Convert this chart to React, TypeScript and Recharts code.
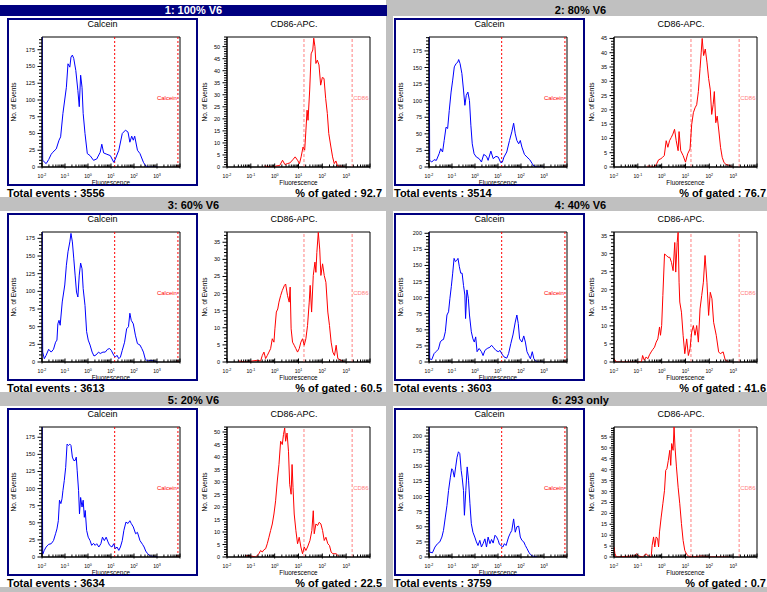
import React from "react";
import { LineChart, Line, XAxis, YAxis, ReferenceLine, ReferenceArea } from "recharts";

type Pt = [number, number];

// x values are log10(fluorescence), y values are event counts
const panelTitles = ["1: 100% V6", "2: 80% V6", "3: 60% V6", "4: 40% V6", "5: 20% V6", "6: 293 only"];
const totalEvents = [3556, 3514, 3613, 3603, 3634, 3759];
const gatedPct = ["92.7", "76.7", "60.5", "41.6", "22.5", "0.7"];
const calceinYMax = [194, 196, 184, 202, 190, 215];
const cd86YMax = [54, 45.5, 38, 36, 52, 59.6];
const decadeExponents = ["-2", "-1", "0", "1", "2", "3"];
const calceinGates = [1.16, 3.91];
const cd86Gates = [1.23, 3.25];

const calceinP1: Pt[] = [
  [-2, 240], [-1.97, 10], [-1.82, 5], [-1.71, 11], [-1.6, 19], [-1.53, 22], [-1.38, 27], [-1.26, 40],
  [-1.19, 45], [-1.09, 80], [-0.94, 119], [-0.87, 154], [-0.79, 149], [-0.74, 164], [-0.68, 167],
  [-0.62, 162], [-0.53, 144], [-0.44, 114], [-0.38, 90], [-0.32, 137], [-0.26, 119], [-0.21, 80],
  [-0.13, 50], [-0.03, 20], [0.09, 17], [0.24, 10], [0.38, 12], [0.53, 22], [0.6, 34], [0.68, 21],
  [0.82, 19], [0.97, 17], [1.12, 7], [1.19, 12], [1.34, 25], [1.49, 50], [1.63, 55], [1.74, 52],
  [1.82, 37], [1.9, 46], [1.97, 40], [2.03, 46], [2.15, 25], [2.26, 20], [2.41, 7], [2.51, 1.5],
  [2.66, 0], [3.03, 0],
];
const cd86P1: Pt[] = [
  [-0.43, 0.4], [-0.07, 0], [0.1, 0.5], [0.21, 0.6], [0.33, 2.8], [0.43, 1], [0.53, 1.4], [0.64, 1.7],
  [0.76, 3], [0.86, 4.2], [0.96, 2.8], [1.04, 1.4], [1.11, 4.2], [1.19, 8.3], [1.26, 7], [1.31, 15],
  [1.36, 23.6], [1.4, 19.4], [1.47, 32], [1.53, 47], [1.6, 48.6], [1.64, 53.5], [1.69, 50], [1.73, 43],
  [1.79, 44.4], [1.86, 42.4], [1.93, 34], [2.0, 37.2], [2.07, 36.8], [2.14, 28.5], [2.21, 22.2],
  [2.27, 13.9], [2.36, 8.3], [2.43, 4.2], [2.5, 1.4], [2.57, 2.5], [2.64, 0.4], [2.79, 0.4], [2.93, 0],
];
const calceinP2: Pt[] = [
  [-2, 240], [-1.97, 10], [-1.88, 7.5], [-1.78, 11], [-1.68, 10], [-1.56, 20], [-1.49, 27.6], [-1.41, 22.6],
  [-1.34, 40], [-1.26, 60], [-1.19, 58], [-1.12, 85], [-1.04, 113], [-0.97, 131], [-0.9, 151], [-0.82, 156],
  [-0.75, 158], [-0.71, 162], [-0.65, 156], [-0.57, 141], [-0.5, 116], [-0.44, 93], [-0.38, 108],
  [-0.31, 113], [-0.24, 100], [-0.18, 63], [-0.12, 35], [-0.04, 20], [0.06, 15], [0.18, 12.6], [0.28, 7.5],
  [0.38, 19], [0.5, 16], [0.57, 10], [0.69, 24], [0.79, 12.6], [0.91, 16], [1.01, 15], [1.12, 6.5],
  [1.19, 7.5], [1.26, 15], [1.38, 22.6], [1.5, 40], [1.6, 53], [1.68, 66], [1.75, 50], [1.82, 40],
  [1.9, 35], [1.97, 40], [2.04, 30], [2.15, 19], [2.26, 15], [2.38, 11], [2.49, 5], [2.56, 1.5],
  [2.71, 0], [3.0, 0],
];
const cd86P2: Pt[] = [
  [-0.6, 0.3], [-0.46, 0.3], [-0.31, 0], [-0.21, 1.1], [-0.13, 2.5], [-0.03, 2.9], [0.04, 3.4], [0.11, 4],
  [0.19, 9.2], [0.26, 6.9], [0.33, 9.2], [0.4, 10.3], [0.47, 11.5], [0.54, 13.2], [0.61, 9.2], [0.69, 5.7],
  [0.73, 12.4], [0.8, 5.7], [0.9, 4], [1.0, 1.7], [1.09, 4.6], [1.19, 6.3], [1.26, 14.9], [1.33, 19],
  [1.4, 20.7], [1.47, 21.8], [1.54, 26.4], [1.61, 34.4], [1.66, 40.2], [1.7, 45], [1.76, 39], [1.83, 41.3],
  [1.9, 36.7], [1.97, 31], [2.04, 27], [2.1, 18.4], [2.16, 21.8], [2.21, 26.4], [2.27, 15.5], [2.33, 17.8],
  [2.4, 12.6], [2.47, 6.9], [2.54, 3.4], [2.61, 1.7], [2.69, 0.9], [2.83, 0.6], [2.97, 0],
];
const calceinP3: Pt[] = [
  [-2, 240], [-1.97, 14], [-1.9, 4.7], [-1.82, 9.5], [-1.71, 18], [-1.6, 14], [-1.5, 18], [-1.41, 28],
  [-1.35, 31], [-1.31, 54], [-1.26, 59], [-1.21, 52], [-1.12, 85], [-1.01, 109], [-0.94, 137], [-0.87, 156],
  [-0.79, 170], [-0.74, 182], [-0.68, 170], [-0.62, 147], [-0.56, 123], [-0.5, 99], [-0.44, 92],
  [-0.38, 123], [-0.32, 140], [-0.26, 132], [-0.21, 104], [-0.13, 80], [-0.06, 43], [0.01, 31], [0.09, 24],
  [0.18, 14], [0.26, 8.5], [0.35, 10], [0.46, 14], [0.53, 12], [0.65, 14], [0.75, 14], [0.85, 18],
  [0.94, 19], [1.01, 16.5], [1.12, 9.5], [1.19, 7], [1.26, 9.5], [1.34, 4.7], [1.41, 7], [1.49, 16.5],
  [1.59, 28], [1.68, 47], [1.76, 50], [1.82, 69], [1.88, 59], [1.97, 54], [2.06, 38], [2.15, 26],
  [2.26, 24], [2.34, 19], [2.41, 14], [2.49, 4], [2.59, 1.4], [2.74, 2.4], [2.88, 1.4], [3.03, 0],
];
const cd86P3: Pt[] = [
  [-1.51, 0.3], [-1.23, 0], [-0.73, 0.5], [-0.59, 0.3], [-0.52, 1.9], [-0.45, 2.9], [-0.38, 1], [-0.31, 1.9],
  [-0.24, 2.9], [-0.17, 3.9], [-0.1, 6.8], [-0.03, 5.8], [0.01, 9.7], [0.07, 14.6], [0.13, 15.5], [0.18, 17.5],
  [0.25, 19.4], [0.32, 20.9], [0.41, 22.4], [0.46, 22.8], [0.54, 19.4], [0.61, 17.5], [0.65, 21.9],
  [0.69, 9.7], [0.75, 5.8], [0.82, 4.9], [0.89, 3.9], [0.96, 2.9], [1.03, 3.9], [1.1, 5.8], [1.17, 6.8],
  [1.24, 4.9], [1.31, 6.8], [1.38, 10.7], [1.45, 17.5], [1.49, 22.4], [1.55, 14.6], [1.62, 25.3],
  [1.69, 29.2], [1.73, 26.2], [1.77, 32], [1.83, 37.9], [1.89, 33], [1.94, 25.3], [2.01, 28.7], [2.08, 25.3],
  [2.15, 23.3], [2.23, 14.6], [2.3, 10.7], [2.37, 5.8], [2.44, 2.9], [2.51, 1.9], [2.58, 4.9], [2.65, 1],
  [2.79, 0.5], [2.93, 0],
];
const calceinP4: Pt[] = [
  [-2, 240], [-1.97, 5], [-1.88, 3.6], [-1.78, 13], [-1.68, 16.6], [-1.59, 20], [-1.51, 31], [-1.44, 34],
  [-1.37, 35], [-1.29, 47], [-1.22, 73], [-1.15, 78], [-1.09, 99], [-1.03, 117], [-0.97, 138], [-0.91, 161],
  [-0.85, 156], [-0.79, 158], [-0.74, 161], [-0.68, 148], [-0.62, 138], [-0.56, 138], [-0.5, 119],
  [-0.44, 104], [-0.41, 67.5], [-0.35, 112], [-0.29, 99], [-0.24, 73], [-0.16, 47], [-0.09, 36], [-0.03, 31],
  [0.03, 39], [0.09, 16], [0.18, 21], [0.28, 16], [0.35, 10], [0.43, 18], [0.53, 21], [0.65, 23],
  [0.72, 26], [0.79, 23], [0.91, 18], [1.01, 16], [1.09, 18], [1.16, 13], [1.26, 8], [1.38, 6], [1.46, 13],
  [1.56, 29], [1.65, 42], [1.75, 62], [1.82, 73], [1.88, 60], [1.94, 36], [2.04, 31], [2.12, 40.5],
  [2.19, 31], [2.26, 16], [2.34, 10], [2.41, 5], [2.49, 16], [2.56, 5], [2.63, 1.6], [2.78, 0], [3.0, 0],
];
const cd86P4: Pt[] = [
  [-2, 0.9], [-1.9, 0], [-0.85, 0], [-0.8, 1.8], [-0.73, 0.5], [-0.65, 1.4], [-0.58, 0.9], [-0.51, 2],
  [-0.44, 2.8], [-0.37, 3.5], [-0.3, 4.1], [-0.23, 5.5], [-0.16, 6.4], [-0.09, 9.7], [-0.05, 7.4], [0.0, 10.1],
  [0.05, 18.4], [0.12, 29.9], [0.2, 29.5], [0.27, 29], [0.34, 29], [0.41, 27.6], [0.48, 25.3], [0.55, 33.1],
  [0.59, 24.9], [0.65, 33.1], [0.69, 35.9], [0.73, 22.1], [0.76, 16.6], [0.83, 13.8], [0.9, 7.4],
  [0.97, 2.3], [1.05, 6.4], [1.12, 1.8], [1.19, 3.7], [1.26, 8.3], [1.33, 10.1], [1.4, 7.4], [1.47, 10.1],
  [1.54, 5.5], [1.61, 14.7], [1.68, 18.4], [1.75, 22.1], [1.82, 29.5], [1.9, 22.1], [1.97, 12.9],
  [2.04, 19.3], [2.11, 17.5], [2.18, 11], [2.29, 7.4], [2.39, 2.8], [2.46, 2.3], [2.58, 2.8], [2.67, 0.5],
  [2.82, 0],
];
const calceinP5: Pt[] = [
  [-2, 240], [-1.97, 4], [-1.9, 9.7], [-1.82, 14.6], [-1.71, 18.5], [-1.6, 19.4], [-1.5, 24], [-1.41, 34],
  [-1.35, 41], [-1.29, 53], [-1.24, 83], [-1.18, 78], [-1.13, 85], [-1.09, 97], [-1.03, 112], [-0.97, 131],
  [-0.91, 165], [-0.85, 163], [-0.79, 165], [-0.74, 163], [-0.68, 146], [-0.62, 141], [-0.56, 141],
  [-0.51, 146], [-0.47, 126], [-0.41, 97], [-0.37, 63], [-0.32, 87], [-0.26, 73], [-0.21, 83], [-0.16, 58],
  [-0.12, 68], [-0.06, 39], [0.01, 29], [0.09, 24], [0.16, 17], [0.24, 20], [0.31, 17], [0.38, 19.4],
  [0.47, 14.6], [0.56, 19.4], [0.63, 29], [0.71, 24], [0.79, 29], [0.87, 22], [0.94, 17], [1.04, 14.6],
  [1.12, 19.4], [1.19, 12], [1.26, 14.6], [1.34, 9.7], [1.41, 14.6], [1.49, 24], [1.56, 39], [1.65, 51],
  [1.74, 49], [1.82, 53], [1.88, 49], [1.97, 44], [2.07, 34], [2.15, 36], [2.26, 24], [2.37, 18.5],
  [2.44, 14.6], [2.51, 8.7], [2.59, 4.9], [2.71, 1.5], [3.03, 0],
];
const cd86P5: Pt[] = [
  [-1.23, 0.4], [-1.08, 0.6], [-0.8, 0], [-0.66, 1.3], [-0.59, 2.6], [-0.52, 2], [-0.45, 2.9], [-0.38, 3.3],
  [-0.31, 5.3], [-0.24, 7.9], [-0.17, 10.6], [-0.1, 13.2], [-0.03, 17.2], [0.04, 22.5], [0.11, 30.4],
  [0.18, 37], [0.25, 46.3], [0.32, 45], [0.37, 49], [0.42, 51.6], [0.46, 46.3], [0.52, 49.6], [0.58, 42.3],
  [0.63, 29.1], [0.69, 25.1], [0.73, 37], [0.77, 27.8], [0.82, 17.2], [0.89, 10.6], [0.96, 5.3], [1.03, 7.9],
  [1.1, 4], [1.17, 1.3], [1.24, 4], [1.31, 2.6], [1.38, 4], [1.48, 6.6], [1.56, 10.6], [1.62, 18.5],
  [1.66, 9.3], [1.73, 13.2], [1.8, 12.6], [1.87, 13.9], [1.94, 13.2], [2.01, 10.6], [2.08, 6.6], [2.15, 7.9],
  [2.23, 5.3], [2.3, 4.6], [2.37, 2], [2.44, 1.3], [2.58, 1.3], [2.72, 0],
];
const calceinP6: Pt[] = [
  [-2, 240], [-1.97, 8], [-1.85, 7], [-1.74, 16.5], [-1.63, 22], [-1.53, 25], [-1.44, 33], [-1.37, 44],
  [-1.29, 66], [-1.22, 85], [-1.15, 110], [-1.07, 132], [-1.01, 146], [-0.96, 143], [-0.9, 132], [-0.84, 149],
  [-0.78, 165], [-0.72, 174], [-0.66, 171], [-0.6, 143], [-0.56, 132], [-0.5, 110], [-0.46, 69], [-0.4, 110],
  [-0.34, 149], [-0.28, 127], [-0.22, 88], [-0.16, 55], [-0.09, 41], [-0.01, 33], [0.06, 25], [0.13, 19],
  [0.21, 27.5], [0.28, 16.5], [0.35, 22], [0.43, 30], [0.5, 16.5], [0.57, 33], [0.65, 22], [0.72, 29],
  [0.79, 23], [0.87, 36], [0.94, 33], [1.01, 27.5], [1.06, 21], [1.13, 19], [1.21, 16.5], [1.28, 22],
  [1.35, 19], [1.46, 33], [1.53, 39], [1.6, 44], [1.68, 63], [1.75, 41], [1.82, 50], [1.9, 51], [1.97, 33],
  [2.04, 27.5], [2.12, 25], [2.19, 19], [2.26, 14], [2.34, 8], [2.41, 4], [2.49, 1.7], [2.71, 0],
];
const cd86P6: Pt[] = [
  [-2, 4.6], [-1.96, 1.5], [-1.9, 0], [-1.15, 0.5], [-1.05, 1.5], [-0.97, 0.5], [-0.8, 0], [-0.65, 1.5],
  [-0.57, 0.5], [-0.44, 0], [-0.4, 5.3], [-0.34, 9.2], [-0.29, 4.6], [-0.23, 9.2], [-0.17, 8.4], [-0.13, 4.6],
  [-0.09, 11.5], [-0.02, 18.3], [0.05, 24.4], [0.12, 30.6], [0.17, 39.7], [0.22, 40.5], [0.28, 44.3],
  [0.34, 48.9], [0.38, 42], [0.42, 52], [0.48, 48.9], [0.52, 59.6], [0.56, 50.4], [0.62, 41.3], [0.69, 32],
  [0.76, 24.4], [0.83, 15.3], [0.9, 7.6], [0.97, 3], [1.05, 1.2], [1.12, 0.5], [1.26, 0], [1.68, 0.5],
  [2.04, 0], [2.82, 0],
];

const calceinData = [calceinP1, calceinP2, calceinP3, calceinP4, calceinP5, calceinP6];
const cd86Data = [cd86P1, cd86P2, cd86P3, cd86P4, cd86P5, cd86P6];

const FONT = "'Liberation Sans', Arial, sans-serif";
const NAVY = "#000080";

// log decade ticks plus the 2..9 minor ticks
const xTicks: number[] = [];
decadeExponents.forEach((e) => {
  const d = Number(e);
  xTicks.push(d);
  for (let m = 2; m <= 9; m++) xTicks.push(d + Math.log10(m));
});
xTicks.push(4);

function XTick(props: any) {
  const { x, y, payload } = props;
  const v = payload.value;
  const major = Math.abs(v - Math.round(v)) < 1e-6;
  const label = decadeExponents.find((e) => Number(e) === v);
  return (
    <g>
      <line x1={x} x2={x} y1={major ? y + 1.5 : y} y2={y - (major ? 3.5 : 2.5)} stroke="#000" />
      {label !== undefined && (
        <text x={x} y={y + 11} textAnchor="middle" fontSize={5} fill="#000" fontFamily={FONT}>
          10<tspan dy={-2} fontSize={3.6}>{label}</tspan>
        </text>
      )}
    </g>
  );
}

function YTick(props: any) {
  const { x, y, payload, major } = props;
  const isMajor = payload.value % major === 0;
  return (
    <g>
      <line x1={x} x2={x - (isMajor ? 4.5 : 3)} y1={y} y2={y} stroke="#000" />
      {isMajor && (
        <text x={x - 7} y={y + 2} textAnchor="end" fontSize={5.5} fill="#000" fontFamily={FONT}>
          {payload.value}
        </text>
      )}
    </g>
  );
}

function GateLabel(props: any) {
  const { viewBox, text, color, side } = props;
  if (!viewBox) return null;
  const x = side === "left" ? viewBox.x - 1 : viewBox.x + 1;
  const y = viewBox.y + viewBox.height * 0.47 + 2;
  return (
    <text x={x} y={y} fill={color} fontSize={6} textAnchor={side === "left" ? "end" : "start"} fontFamily={FONT}>
      {text}
    </text>
  );
}

interface HistoProps {
  points: Pt[];
  color: string;
  yMax: number;
  major: number;
  minor: number;
  gates: number[];
  gateColor: string;
  gateDash: string;
  gateText: string;
  gateSide: "left" | "right";
  width: number;
  axisW: number;
  right: number;
}

function Histo({ points, color, yMax, major, minor, gates, gateColor, gateDash, gateText, gateSide, width, axisW, right }: HistoProps) {
  const rows = points.map(([x, y]) => ({ x, y }));
  const yTicks: number[] = [];
  for (let v = 0; v <= yMax; v += minor) yTicks.push(v);

  return (
    <LineChart width={width} height={170} data={rows} margin={{ top: 21, right, left: 0, bottom: 0 }}>
      <XAxis
        dataKey="x"
        type="number"
        domain={[-2, 4]}
        ticks={xTicks}
        interval={0}
        tickSize={0}
        tickMargin={0}
        tickLine={false}
        tick={(p: any) => <XTick {...p} />}
        axisLine={{ stroke: "#000" }}
        height={19}
        allowDataOverflow
      />
      <YAxis
        type="number"
        domain={[0, yMax]}
        ticks={yTicks}
        interval={0}
        tickSize={0}
        tickMargin={0}
        tickLine={false}
        tick={(p: any) => <YTick {...p} major={major} />}
        axisLine={{ stroke: "#000" }}
        width={axisW}
        allowDataOverflow
      />
      <ReferenceArea x1={-2} x2={4} y1={0} y2={yMax} fill="none" fillOpacity={0} stroke="#000" strokeWidth={1} />
      <ReferenceLine x={gates[0]} stroke={gateColor} strokeDasharray={gateDash} />
      <ReferenceLine
        x={gates[1]}
        stroke={gateColor}
        strokeDasharray={gateDash}
        label={<GateLabel text={gateText} color={gateColor} side={gateSide} />}
      />
      <Line dataKey="y" type="linear" stroke={color} strokeWidth={1} dot={false} isAnimationActive={false} />
    </LineChart>
  );
}

function Txt({ x, y, size, bold, color = "#000", anchor = "middle", rotate, children }: any) {
  const tx = anchor === "start" ? "0" : anchor === "end" ? "-100%" : "-50%";
  return (
    <div
      style={{
        position: "absolute",
        left: x,
        top: y,
        transform: `translate(${tx}, -50%)${rotate ? " rotate(-90deg)" : ""}`,
        fontSize: size,
        fontWeight: bold ? 700 : 400,
        color,
        whiteSpace: "nowrap",
        lineHeight: 1,
        fontFamily: FONT,
      }}
    >
      {children}
    </div>
  );
}

function Panel({ i }: { i: number }) {
  const col = i % 2;
  const row = Math.floor(i / 2);
  const cx = col * 387;
  const rowTop = 3 + row * 195;
  const ct = rowTop + 13;
  const selected = i === 0;

  return (
    <>
      {selected && <div style={{ position: "absolute", left: 0, top: rowTop + 2, width: 387, height: 11, background: NAVY }} />}
      <Txt x={cx + 193.5} y={rowTop + 7} size={11} bold color={selected ? "#fff" : "#000"}>
        {panelTitles[i]}
      </Txt>
      <div
        style={{
          position: "absolute",
          left: col === 0 ? 0 : 393,
          top: ct,
          width: col === 0 ? 386 : 380,
          height: 181,
          background: "#fff",
        }}
      />
      <div
        style={{
          position: "absolute",
          left: cx + 7,
          top: ct + 2,
          width: 191,
          height: 168,
          border: `2px solid ${NAVY}`,
          boxSizing: "border-box",
        }}
      />
      <div style={{ position: "absolute", left: cx + 7, top: ct }}>
        <Histo
          points={calceinData[i]}
          color="#0000ff"
          yMax={calceinYMax[i]}
          major={25}
          minor={5}
          gates={calceinGates}
          gateColor="#ff0000"
          gateDash="2 2"
          gateText="Calcein"
          gateSide="left"
          width={191}
          axisW={35}
          right={18}
        />
      </div>
      <div style={{ position: "absolute", left: cx + 198, top: ct }}>
        <Histo
          points={cd86Data[i]}
          color="#ff0000"
          yMax={cd86YMax[i]}
          major={5}
          minor={1}
          gates={cd86Gates}
          gateColor="#ff8080"
          gateDash="3 2"
          gateText="CD86"
          gateSide="right"
          width={188}
          axisW={29}
          right={16}
        />
      </div>
      <Txt x={cx + 102.5} y={ct + 8} size={9}>Calcein</Txt>
      <Txt x={cx + 294} y={ct + 8} size={9}>CD86-APC.</Txt>
      <Txt x={cx + 14} y={ct + 86} size={6.5} rotate>No. of Events</Txt>
      <Txt x={cx + 205} y={ct + 86} size={6.5} rotate>No. of Events</Txt>
      <Txt x={cx + 111} y={ct + 167} size={6.4}>Fluorescence</Txt>
      <Txt x={cx + 298.5} y={ct + 167} size={6.4}>Fluorescence</Txt>
      <Txt x={cx + 7} y={rowTop + 190} size={11} bold anchor="start">
        {`Total events : ${totalEvents[i]}`}
      </Txt>
      <Txt x={Math.min(cx + 382, 766)} y={rowTop + 190} size={11} bold anchor="end">
        {`% of gated : ${gatedPct[i]}`}
      </Txt>
    </>
  );
}

export default function App() {
  return (
    <div
      style={{
        position: "absolute",
        left: 0,
        top: 0,
        width: 767,
        height: 592,
        background: "#c0c0c0",
        overflow: "hidden",
        fontFamily: FONT,
      }}
    >
      <div style={{ position: "absolute", left: 0, top: 0, width: 386, height: 5, background: "#fff" }} />
      {panelTitles.map((_, i) => (
        <Panel key={i} i={i} />
      ))}
    </div>
  );
}
